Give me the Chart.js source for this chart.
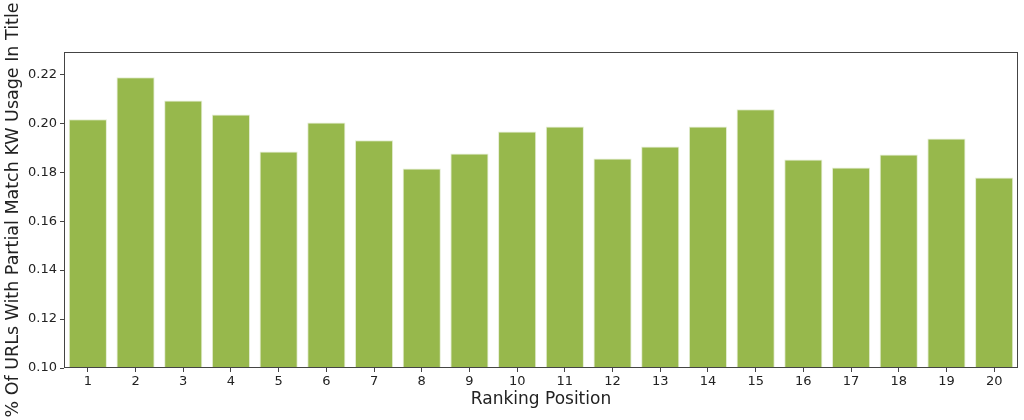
<!DOCTYPE html>
<html>
<head>
<meta charset="utf-8">
<script src="https://cdn.jsdelivr.net/npm/chart.js@4/dist/chart.umd.min.js"></script>
<style>
  html, body { margin: 0; padding: 0; background: #fff; }
  #wrap { width: 1024px; height: 420px; }
</style>
</head>
<body>
<div id="wrap"><canvas id="chart" width="1024" height="420"></canvas></div>
<script>
const positions = ["1","2","3","4","5","6","7","8","9","10","11","12","13","14","15","16","17","18","19","20"];
const partialMatchShare = [0.2016, 0.2188, 0.2093, 0.2036, 0.1885, 0.2003, 0.1930, 0.1815, 0.1876, 0.1966,
                           0.1987, 0.1856, 0.1905, 0.1987, 0.2057, 0.1852, 0.1819, 0.1872, 0.1938, 0.1778];
const yTicks = [0.10, 0.12, 0.14, 0.16, 0.18, 0.20, 0.22];

const frame = {
    id: 'frame',
    afterDraw(chart) {
        const { ctx, chartArea: a } = chart;
        ctx.save();
        ctx.strokeStyle = '#444';
        ctx.lineWidth = 1;
        ctx.strokeRect(a.left + 0.5, a.top + 0.5, a.right - a.left - 1, a.bottom - a.top - 1);
        ctx.restore();
    }
};

new Chart(document.getElementById('chart'), {
    type: 'bar',
    data: {
        labels: positions,
        datasets: [{
            data: partialMatchShare,
            backgroundColor: '#97b84c',
            borderColor: '#e4edd3',
            borderWidth: 1,
            categoryPercentage: 1,
            barPercentage: 0.8
        }]
    },
    options: {
        responsive: false,
        animation: false,
        layout: { padding: { top: 52, right: 6, left: 0, bottom: 0 } },
        plugins: { legend: { display: false }, tooltip: { enabled: false } },
        scales: {
            x: {
                grid: { offset: false, drawOnChartArea: false, drawTicks: true, tickLength: 4, color: '#444' },
                border: { display: false },
                ticks: { color: '#222', font: { family: 'DejaVu Sans', size: 13 }, padding: 2, maxRotation: 0 },
                title: { display: true, text: 'Ranking Position', color: '#222',
                         font: { family: 'DejaVu Sans', size: 17 }, padding: { top: 0, bottom: 10 } },
                afterFit(axis) { axis.height = 52; }
            },
            y: {
                min: 0.10,
                max: 0.2291,
                afterBuildTicks(axis) { axis.ticks = yTicks.map(v => ({ value: v })); },
                grid: { drawOnChartArea: false, drawTicks: true, tickLength: 4, color: '#444' },
                border: { display: false },
                ticks: { color: '#222', font: { family: 'DejaVu Sans', size: 13 }, padding: 3,
                         callback: v => v.toFixed(2) },
                title: { display: true, text: '% Of URLs With Partial Match KW Usage In Title', color: '#222',
                         font: { family: 'DejaVu Sans', size: 17.5 }, padding: { top: 3, bottom: 0 } },
                afterFit(axis) { axis.width = 64; }
            }
        }
    },
    plugins: [frame]
});
</script>
</body>
</html>
